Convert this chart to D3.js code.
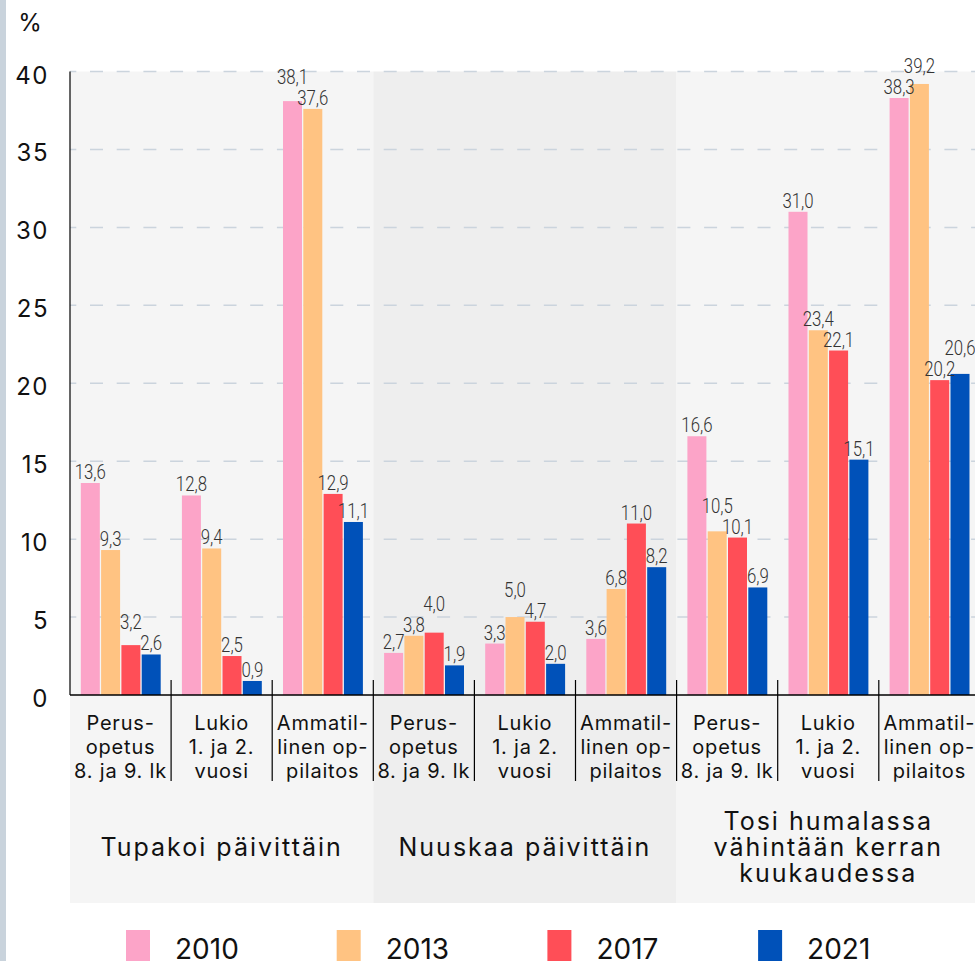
<!DOCTYPE html>
<html>
<head>
<meta charset="utf-8">
<script src="https://cdn.jsdelivr.net/npm/d3@7"></script>
<style>
  html, body { margin: 0; padding: 0; background: #ffffff; }
  svg { display: block; }
</style>
</head>
<body>
<svg id="chart" width="975" height="961"></svg>
<script>
// ---------- data ----------
const groups = ["Tupakoi päivittäin", "Nuuskaa päivittäin", "Tosi humalassa|vähintään kerran|kuukaudessa"];
const levels = ["Perus-|opetus|8. ja 9. lk", "Lukio|1. ja 2.|vuosi", "Ammatil-|linen op-|pilaitos"];
const years = ["2010", "2013", "2017", "2021"];
const v2010 = [13.6, 12.8, 38.1, 2.7, 3.3, 3.6, 16.6, 31.0, 38.3];
const v2013 = [9.3, 9.4, 37.6, 3.8, 5.0, 6.8, 10.5, 23.4, 39.2];
const v2017 = [3.2, 2.5, 12.9, 4.0, 4.7, 11.0, 10.1, 22.1, 20.2];
const v2021 = [2.6, 0.9, 11.1, 1.9, 2.0, 8.2, 6.9, 15.1, 20.6];
const yTicks = [0, 5, 10, 15, 20, 25, 30, 35, 40];
const colors = ["#fca4c8", "#ffc382", "#ff4e57", "#0051b9"];

// ---------- derived ----------
const series = [v2010, v2013, v2017, v2021];
const categories = [];
groups.forEach((g, gi) => levels.forEach((l, li) => categories.push({ id: gi * 3 + li, group: gi, label: l })));

const svg = d3.select("#chart");
const W = 975, H = 961;
const FONT = "Inter, 'Noto Sans', sans-serif";

const x0 = d3.scaleBand().domain(categories.map(d => d.id)).range([70, 70 + 9 * 101.1]).paddingInner(0).paddingOuter(0);
const x1 = d3.scaleBand().domain(years).range([10.8, 92]);
const y = d3.scaleLinear().domain([0, 40]).range([695, 71.5]);
const gScale = d3.scaleBand().domain(d3.range(groups.length)).range([70, 70 + 9 * 101.1]);

// left strip
svg.append("rect").attr("x", 0).attr("y", 0).attr("width", 6).attr("height", H).attr("fill", "#c9d3dc");

// group panels
const panelColors = ["#f5f5f5", "#eeeeee", "#f5f5f5"];
svg.append("g").selectAll("rect").data(d3.range(groups.length)).join("rect")
  .attr("x", d => gScale(d))
  .attr("y", y(40))
  .attr("width", gScale.bandwidth())
  .attr("height", 903 - y(40))
  .attr("fill", (d, i) => panelColors[i]);

// gridlines
svg.append("g").selectAll("line").data(yTicks.filter(t => t > 0)).join("line")
  .attr("x1", 70).attr("x2", W)
  .attr("y1", d => y(d)).attr("y2", d => y(d))
  .attr("stroke", "#cbd4dd").attr("stroke-width", 1.5)
  .attr("stroke-dasharray", "13,13.7").attr("stroke-dashoffset", 6.7);

// y tick labels
svg.append("g").selectAll("text").data(yTicks).join("text")
  .attr("x", 49).attr("y", d => y(d) + 12)
  .attr("text-anchor", "end")
  .attr("font-family", FONT).attr("font-size", 24).attr("letter-spacing", 1.5).attr("fill", "#111")
  .text(d => d);

svg.append("text").attr("x", 30).attr("y", 31).attr("text-anchor", "middle")
  .attr("font-family", FONT).attr("font-size", 24).attr("fill", "#111").text("%");

// bars
const barData = [];
categories.forEach(c => years.forEach((yr, si) => barData.push({ cat: c.id, year: yr, si, value: series[si][c.id] })));
svg.append("g").selectAll("rect").data(barData).join("rect")
  .attr("x", d => x0(d.cat) + x1(d.year))
  .attr("y", d => y(d.value))
  .attr("width", x1.bandwidth() - 1.3)
  .attr("height", d => y(0) - y(d.value))
  .attr("fill", d => colors[d.si]);

// axes lines
svg.append("line").attr("x1", 70).attr("x2", 70).attr("y1", y(40)).attr("y2", y(0)).attr("stroke", "#000").attr("stroke-width", 1.2);
svg.append("line").attr("x1", 70).attr("x2", W).attr("y1", y(0)).attr("y2", y(0)).attr("stroke", "#000").attr("stroke-width", 1.5);
svg.append("g").selectAll("line").data(categories.slice(1)).join("line")
  .attr("x1", d => x0(d.id)).attr("x2", d => x0(d.id))
  .attr("y1", 680).attr("y2", 781)
  .attr("stroke", "#000").attr("stroke-width", 1.2);

// data labels with simple collision avoidance
const fmt = v => d3.format(".1f")(v).replace(".", ",");
const LH = 15, GAP = 6;
const labels = [];
categories.forEach(c => {
  const items = years.map((yr, si) => ({ cat: c.id, si, year: yr, value: series[si][c.id],
    cx: x0(c.id) + x1(yr) + (x1.bandwidth() - 1.3) / 2 }));
  const order = items.slice().sort((a, b) => a.value - b.value);
  const placed = [];
  order.forEach(it => {
    let base = y(it.value) - 4;
    let moved = true;
    while (moved) {
      moved = false;
      placed.forEach(p => {
        if (Math.abs(p.si - it.si) === 1 && base > p.base - LH && base - LH < p.base) {
          base = p.base - LH - GAP; moved = true;
        }
      });
    }
    it.base = base;
    placed.push(it);
    labels.push(it);
  });
});
svg.append("g").selectAll("text").data(labels).join("text")
  .attr("transform", d => `translate(${d.cx},${d.base}) scale(0.8,1)`)
  .attr("text-anchor", "middle")
  .attr("font-family", "Roboto, sans-serif").attr("font-weight", 300).attr("font-size", 21)
  .attr("fill", "#333")
  .text(d => fmt(d.value));

// category labels
const catG = svg.append("g").selectAll("text").data(categories).join("text")
  .attr("x", d => x0(d.id) + x0.bandwidth() / 2)
  .attr("y", 729.5)
  .attr("text-anchor", "middle")
  .attr("font-family", FONT).attr("font-size", 20).attr("letter-spacing", 0.8).attr("fill", "#111");
catG.selectAll("tspan").data(d => d.label.split("|").map(s => ({ s, x: x0(d.id) + x0.bandwidth() / 2 }))).join("tspan")
  .attr("x", d => d.x).attr("dy", (d, i) => i === 0 ? 0 : 24).text(d => d.s);

// group labels
const grpG = svg.append("g").selectAll("text").data(d3.range(groups.length)).join("text")
  .attr("text-anchor", "middle")
  .attr("font-family", FONT).attr("font-size", 25).attr("letter-spacing", 2).attr("fill", "#111");
grpG.each(function (gi) {
  const lines = groups[gi].split("|");
  const cx = gScale(gi) + gScale.bandwidth() / 2;
  const start = 856 - (lines.length - 1) / 2 * 26;
  d3.select(this).selectAll("tspan").data(lines).join("tspan")
    .attr("x", cx).attr("y", (d, i) => start + i * 26).text(d => d);
});

// legend
const lx = d3.scalePoint().domain(years).range([126, 126 + 3 * 210.7]);
const leg = svg.append("g").selectAll("g").data(years).join("g")
  .attr("transform", d => `translate(${lx(d)},930)`);
leg.append("rect").attr("width", 24).attr("height", 40).attr("fill", (d, i) => colors[i]);
leg.append("text").attr("x", 49).attr("y", 29).attr("font-family", FONT).attr("font-size", 28).attr("fill", "#111").text(d => d);
</script>
</body>
</html>
